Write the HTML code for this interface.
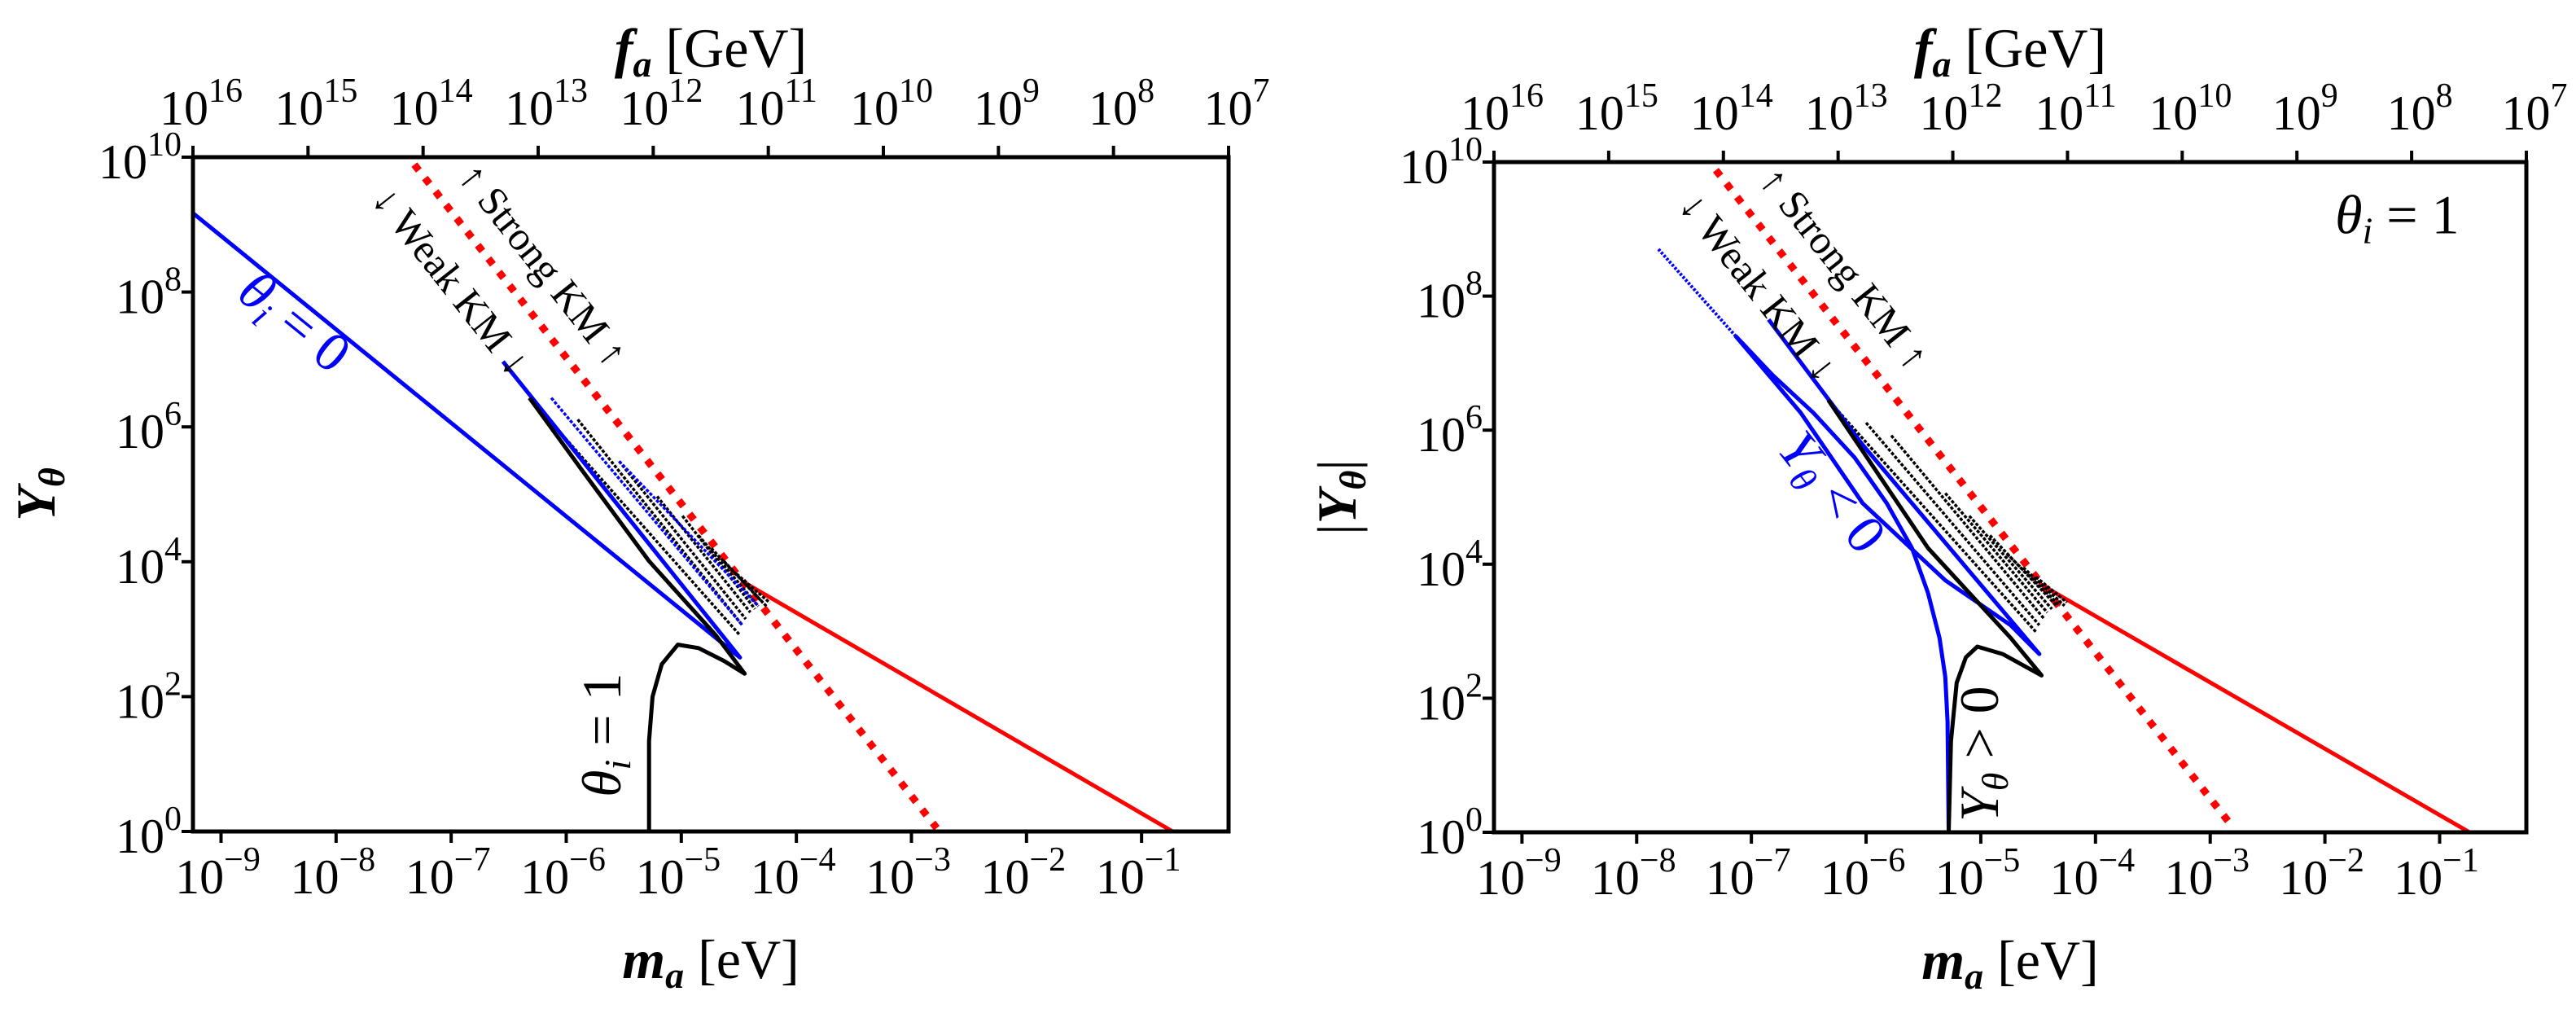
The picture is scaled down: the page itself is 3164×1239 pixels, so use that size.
<!DOCTYPE html>
<html><head><meta charset="utf-8"><style>
html,body{margin:0;padding:0;background:#fff;}
svg{display:block;font-family:"Liberation Serif",serif;}
</style></head><body>
<svg id="fig" width="3164" height="1239" viewBox="0 0 3164 1239" xmlns="http://www.w3.org/2000/svg"></svg>
<script>
// ===== data (log10 m_a [eV], log10 Y) =====
const xTicks = [-9,-8,-7,-6,-5,-4,-3,-2,-1];
const yTicks = [0,2,4,6,8,10];
const faTicks = [16,15,14,13,12,11,10,9,8,7];
// left panel
const L_blue0_x = [-9.244,-4.49,-6.55];
const L_blue0_y = [9.17,2.58,6.97];
const L_black1_x = [-5.28,-5.28,-5.25,-5.17,-5.03,-4.85,-4.63,-4.45,-4.70,-5.28,-5.86,-6.32];
const L_black1_y = [0,1.34,2.0,2.48,2.77,2.72,2.53,2.34,2.91,4.01,5.35,6.43];
const L_clTop_x = [-6.32,-5.90,-5.54,-5.21,-4.99,-4.85,-4.74,-4.63,-4.52];
const L_clTop_y = [6.43,6.11,5.49,4.97,4.68,4.39,4.20,4.01,3.82];
const L_clBot_x = [-4.49,-4.47,-4.44,-4.40,-4.36,-4.33,-4.29,-4.26,-4.23];
const L_clBot_y = [2.91,3.06,3.15,3.25,3.30,3.34,3.39,3.34,3.39];
const L_blueCl_x = [-6.13,-4.47,-5.54,-4.33];
const L_blueCl_y = [6.43,3.06,5.49,3.34];
const L_redSolid_x = [-4.46,-0.73];
const L_redSolid_y = [3.70,0];
const L_redDot_x = [-7.32,-2.78];
const L_redDot_y = [9.89,0.05];
// right panel
const R_blueDot_x = [-7.81,-7.14];
const R_blueDot_y = [8.70,7.41];
const R_blueA_x = [-7.14,-6.82,-6.46,-6.10,-5.82,-5.60,-5.46,-5.36,-5.31,-5.29,-5.28];
const R_blueA_y = [7.41,6.83,6.26,5.59,4.91,4.24,3.57,2.90,2.32,1.65,0];
const R_blueB_x = [-7.14,-6.57,-6.03,-5.31,-4.74,-4.49,-6.03,-6.85];
const R_blueB_y = [7.41,6.26,4.91,3.76,3.09,2.66,5.78,7.65];
const R_black_x = [-5.28,-5.26,-5.21,-5.13,-5.03,-4.81,-4.47,-4.74,-5.46,-6.33];
const R_black_y = [0,1.36,2.23,2.61,2.77,2.66,2.34,2.90,4.24,6.45];
const R_clTop_x = [-6.33,-6.0,-5.78,-5.31,-5.10,-4.92,-4.77,-4.63,-4.52];
const R_clTop_y = [6.45,6.11,5.92,5.06,4.72,4.43,4.15,3.95,3.81];
const R_clBot_x = [-4.52,-4.49,-4.45,-4.42,-4.38,-4.34,-4.31,-4.27,-4.25];
const R_clBot_y = [2.99,3.09,3.19,3.28,3.33,3.38,3.38,3.38,3.43];
const R_redSolid_x = [-4.49,-0.74];
const R_redSolid_y = [3.71,0];
const R_redDot_x = [-7.31,-2.80];
const R_redDot_y = [9.88,0.07];

const NS="http://www.w3.org/2000/svg";
const svg=document.getElementById('fig');
function mk(tag,attrs,parent){const e=document.createElementNS(NS,tag);for(const k in attrs)e.setAttribute(k,attrs[k]);(parent||svg).appendChild(e);return e;}

function panel(P){
  const g=mk('g',{});
  
  
  const X0=-9.244, X1=-0.244;
  const sx=v=>P.L+(v-X0)/(X1-X0)*(P.R-P.L);
  const sy=v=>P.B-v/10*(P.B-P.T);
  function line(xs,ys,color,w,dash,name){
    let d='';for(let i=0;i<xs.length;i++)d+=(i?'L':'M')+sx(xs[i]).toFixed(1)+','+sy(ys[i]).toFixed(1);
    const p=mk('path',{d:d,fill:'none',stroke:color,'stroke-width':w,'stroke-linejoin':'round'},g);
    if(dash)p.setAttribute('stroke-dasharray',dash);
    
    
  }
  function cluster(tx,ty,bx,by,color,name){
    for(let i=0;i<tx.length;i++){line([tx[i],bx[i]],[ty[i],by[i]],color,3.5,'4 2',name);}
  }
  function label(x,y,txt,opts){
    const t=mk('text',{x:x,y:y,'font-size':opts.size||60,'text-anchor':opts.anchor||'middle',fill:opts.fill||'#000'},g);
    if(opts.rot)t.setAttribute('transform','rotate('+opts.rot+' '+x+' '+y+')');
    t.innerHTML=txt;
    
    
    return t;
  }
  P.draw(line,cluster,sx,sy,label);
  const fr=mk('rect',{x:P.L,y:P.T,width:P.R-P.L,height:P.B-P.T,fill:'none',stroke:'#000','stroke-width':5},g);
  
  
  xTicks.forEach(v=>{
    const x=sx(v);
    const tk=mk('line',{x1:x,x2:x,y1:P.B,y2:P.B+14,stroke:'#000','stroke-width':4},g);
    
    
    label(x-4,P.B+76,'10<tspan font-size="42" dy="-28">−'+(-v)+'</tspan>',{name:'x-tick-label'});
  });
  faTicks.forEach(k=>{
    const x=sx(6.756-k);
    const tk=mk('line',{x1:x,x2:x,y1:P.T,y2:P.T-14,stroke:'#000','stroke-width':4},g);
    
    
    label(x+10,P.T-40,'10<tspan font-size="42" dy="-28">'+k+'</tspan>',{name:'top-tick-label'});
  });
  yTicks.forEach(v=>{
    const y=sy(v);
    const tk=mk('line',{x1:P.L,x2:P.L-14,y1:y,y2:y,stroke:'#000','stroke-width':4},g);
    
    
    label(P.L-14,y+26,'10<tspan font-size="42" dy="-28">'+v+'</tspan>',{anchor:'end',name:'y-tick-label'});
  });
  const cx=(P.L+P.R)/2;
  label(cx,P.B+180,'<tspan font-weight="bold" font-style="italic">m</tspan><tspan font-weight="bold" font-style="italic" font-size="46" dy="12">a</tspan><tspan dy="-12"> [eV]</tspan>',{size:68,name:'x-axis-title'});
  label(cx,82,'<tspan font-weight="bold" font-style="italic">f</tspan><tspan font-weight="bold" font-style="italic" font-size="46" dy="12">a</tspan><tspan dy="-12"> [GeV]</tspan>',{size:68,name:'top-axis-title'});
  label(P.L-170,(P.T+P.B)/2,P.ytitle,{size:68,rot:-90,name:'y-axis-title'});
  const kmRot=Math.atan((2.167*(P.B-P.T)/10)/((P.R-P.L)/9))*180/Math.PI;
  label(sx(P.strong[0]),sy(P.strong[1])+14,'↑ Strong KM ↑',{size:50,rot:kmRot,name:'strong-km-label'});
  label(sx(P.weak[0]),sy(P.weak[1])+14,'↓ Weak KM ↓',{size:50,rot:kmRot,name:'weak-km-label'});
}

panel({name:'left-panel',L:237,R:1509,T:193,B:1021,
  ytitle:'<tspan font-weight="bold" font-style="italic">Y</tspan><tspan font-weight="bold" font-style="italic" font-size="46" dy="12">θ</tspan>',
  strong:[-6.29,8.45],weak:[-7.09,8.21],
  draw:(line,cluster,sx,sy,label)=>{
    line(L_redDot_x,L_redDot_y,'#ff0000',9,'9 12','red-dotted-km-boundary');
    line(L_redSolid_x,L_redSolid_y,'#ff0000',5,null,'red-solid-line');
    cluster(L_clTop_x,L_clTop_y,L_clBot_x,L_clBot_y,'#000','black-oscillation');
    cluster(L_blueCl_x.filter((v,i)=>i%2==0),L_blueCl_y.filter((v,i)=>i%2==0),L_blueCl_x.filter((v,i)=>i%2==1),L_blueCl_y.filter((v,i)=>i%2==1),'#0000ff','blue-oscillation');
    line(L_blue0_x,L_blue0_y,'#0000ff',5,null,'theta0-blue-line');
    line(L_black1_x,L_black1_y,'#000',5,null,'theta1-black-line');
    label(sx(-8.46),sy(7.35),'<tspan font-style="italic">θ</tspan><tspan font-style="italic" font-size="46" dy="12">i</tspan><tspan dy="-12"> = 0</tspan>',{size:68,rot:39,fill:'#0000ff',name:'theta0-label'});
    label(sx(-5.53),sy(1.43),'<tspan font-style="italic">θ</tspan><tspan font-style="italic" font-size="46" dy="12">i</tspan><tspan dy="-12"> = 1</tspan>',{size:68,rot:-90,name:'theta1-label'});
  }});

panel({name:'right-panel',L:1835,R:3103,T:199,B:1022,
  ytitle:'|<tspan font-weight="bold" font-style="italic">Y</tspan><tspan font-weight="bold" font-style="italic" font-size="46" dy="12">θ</tspan><tspan dy="-12">|</tspan>',
  strong:[-6.28,8.46],weak:[-7.03,8.18],
  draw:(line,cluster,sx,sy,label)=>{
    line(R_redDot_x,R_redDot_y,'#ff0000',9,'9 12','red-dotted-km-boundary');
    line(R_redSolid_x,R_redSolid_y,'#ff0000',5,null,'red-solid-line');
    cluster(R_clTop_x,R_clTop_y,R_clBot_x,R_clBot_y,'#000','black-oscillation');
    line(R_blueDot_x,R_blueDot_y,'#0000ff',4,'3 2','blue-dotted-start');
    line(R_blueA_x,R_blueA_y,'#0000ff',5,null,'blue-negative-branch');
    line(R_blueB_x,R_blueB_y,'#0000ff',5,null,'blue-negative-branch-2');
    line(R_black_x,R_black_y,'#000',5,null,'black-positive-branch');
    label(sx(-1.37),sy(9.18)+20,'<tspan font-style="italic">θ</tspan><tspan font-style="italic" font-size="46" dy="12">i</tspan><tspan dy="-12"> = 1</tspan>',{size:68,name:'theta1-annotation'});
    label(sx(-6.42),sy(4.91),'<tspan font-style="italic">Y</tspan><tspan font-style="italic" font-size="46" dy="12">θ</tspan><tspan dy="-12"> &lt; 0</tspan>',{size:68,rot:52,fill:'#0000ff',name:'negative-label'});
    label(sx(-4.85),sy(1.17),'<tspan font-style="italic">Y</tspan><tspan font-style="italic" font-size="46" dy="12">θ</tspan><tspan dy="-12"> &gt; 0</tspan>',{size:68,rot:-90,name:'positive-label'});
  }});
</script>
</body></html>
